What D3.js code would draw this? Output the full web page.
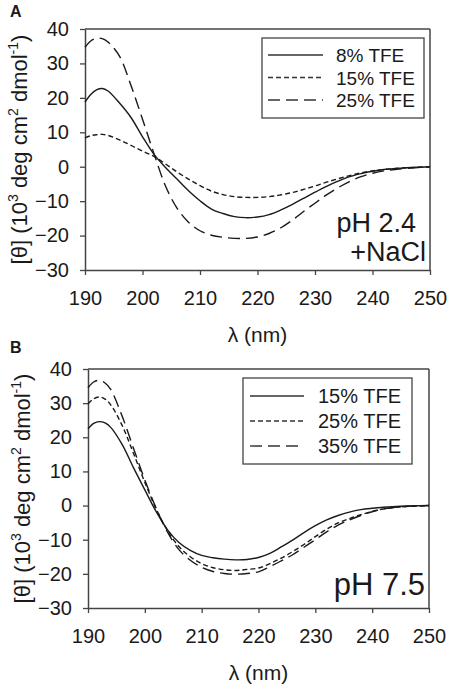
<!DOCTYPE html>
<html>
<head>
<meta charset="utf-8">
<script src="https://cdn.jsdelivr.net/npm/d3@7"></script>
<style>
  html, body { margin: 0; padding: 0; background: #fff; }
  svg { display: block; }
  text { font-family: "Liberation Sans", Arial, Helvetica, sans-serif; fill: #1a1a1a; }
</style>
</head>
<body>
<svg id="chart" width="450" height="689"></svg>
<script>
// ---- data ----
const wavelengths = [190,191,192,193,194,196,198,200,202,204,206,208,210,212,214,216,218,220,222,224,226,228,230,232,234,236,238,240,242,245,250];
const xTicks = [190,200,210,220,230,240,250];
const yTicks = [-30,-20,-10,0,10,20,30,40];

// Panel A (pH 2.4 + NaCl)
const aLabels = ["8% TFE","15% TFE","25% TFE"];
const aTfe8  = [18.8,21.0,22.3,22.7,22.0,18.5,14.3,8.7,3.6,-0.2,-3.6,-7.0,-9.9,-12.3,-13.6,-14.5,-14.8,-14.6,-13.9,-12.6,-11.0,-9.2,-7.4,-5.7,-4.2,-2.9,-2.0,-1.3,-0.8,-0.4,0];
const aTfe15 = [8.4,9.0,9.3,9.4,9.1,7.8,6.2,4.5,3.0,0.8,-1.5,-3.6,-5.5,-7.1,-8.1,-8.7,-8.9,-8.9,-8.7,-8.2,-7.5,-6.6,-5.6,-4.5,-3.5,-2.6,-1.8,-1.2,-0.8,-0.4,0];
const aTfe25 = [34.7,36.5,37.3,37.2,36.2,32.1,23.6,13.8,3.8,-5.6,-12.0,-16.1,-18.6,-19.9,-20.5,-20.8,-20.8,-20.4,-19.4,-17.8,-15.6,-13.0,-10.6,-8.2,-6.1,-4.3,-2.9,-1.9,-1.2,-0.6,0];

// Panel B (pH 7.5)
const bLabels = ["15% TFE","25% TFE","35% TFE"];
const bTfe15 = [22.5,24.1,24.6,24.2,22.9,17.9,11.1,4.6,-1.8,-7.1,-10.8,-13.1,-14.6,-15.3,-15.7,-15.9,-15.8,-15.2,-14.0,-12.1,-10.1,-7.9,-5.9,-4.2,-2.9,-1.9,-1.2,-0.8,-0.5,-0.2,0];
const bTfe25 = [29.8,31.3,31.8,31.2,29.5,23.5,15.3,6.8,-1.0,-7.4,-12.0,-15.0,-17.0,-18.2,-18.8,-19.0,-18.7,-18.3,-17.0,-15.4,-13.5,-11.4,-9.1,-6.9,-5.1,-3.8,-2.7,-1.7,-1.0,-0.4,0];
const bTfe35 = [34.5,36.2,36.7,35.9,34.0,26.2,16.8,7.5,-0.8,-7.8,-12.9,-16.0,-18.1,-19.3,-19.9,-20.1,-19.9,-19.4,-17.9,-16.2,-14.4,-12.2,-10.0,-7.7,-5.7,-4.2,-2.9,-1.8,-1.0,-0.4,0];

const dashes = [null, "5,3", "12,6"];

const svg = d3.select("#chart");

function panel(cfg) {
  const x = d3.scaleLinear().domain([190,250]).range([cfg.x0, cfg.x1]);
  const y = d3.scaleLinear().domain([-30,40]).range([cfg.y0, cfg.y1]);
  const g = svg.append("g");

  // frame (top and right)
  g.append("line").attr("x1", x(190)).attr("x2", x(250)).attr("y1", y(40)).attr("y2", y(40))
    .attr("stroke", "#444").attr("stroke-width", 1.5);
  g.append("line").attr("x1", x(250)).attr("x2", x(250)).attr("y1", y(40)).attr("y2", y(-30))
    .attr("stroke", "#444").attr("stroke-width", 1.5);

  const ax = g.append("g").attr("transform", `translate(0,${y(-30)})`)
    .call(d3.axisBottom(x).tickValues(xTicks).tickSize(5).tickSizeOuter(0).tickPadding(16));
  const ay = g.append("g").attr("transform", `translate(${x(190)},0)`)
    .call(d3.axisLeft(y).tickValues(yTicks).tickSize(5).tickSizeOuter(0).tickPadding(11));
  [ax, ay].forEach(a => {
    a.select(".domain").attr("stroke", "#444").attr("stroke-width", 1.5);
    a.selectAll(".tick line").attr("stroke", "#444").attr("stroke-width", 1.3);
    a.selectAll(".tick text").attr("font-size", 20).attr("fill", "#1a1a1a")
      .attr("font-family", "Liberation Sans, Arial, sans-serif");
  });

  // lines
  const line = d3.line().x((d, i) => x(wavelengths[i])).y(d => y(d)).curve(d3.curveCatmullRom.alpha(0.5));
  cfg.series.forEach((s, i) => {
    g.append("path").datum(s).attr("d", line).attr("fill", "none")
      .attr("stroke", "#1a1a1a").attr("stroke-width", 1.4)
      .attr("stroke-dasharray", dashes[i]);
  });

  // legend
  const L = cfg.legend;
  g.append("rect").attr("x", L.x).attr("y", L.y).attr("width", L.w).attr("height", L.h)
    .attr("fill", "#fff").attr("stroke", "#444").attr("stroke-width", 1.3);
  cfg.labels.forEach((lab, i) => {
    const ry = L.y + L.first + i * L.step;
    g.append("line").attr("x1", L.lx0).attr("x2", L.lx1).attr("y1", ry).attr("y2", ry)
      .attr("stroke", "#333").attr("stroke-width", 1.4).attr("stroke-dasharray", dashes[i]);
    g.append("text").attr("x", L.tx).attr("y", ry + 7).attr("font-size", L.fs).text(lab);
  });

  // y label
  const yl = g.append("text").attr("transform", `translate(${cfg.ylx},${(cfg.y0 + cfg.y1) / 2}) rotate(-90)`)
    .attr("text-anchor", "middle").attr("font-size", 22);
  yl.append("tspan").text("[θ] (10");
  yl.append("tspan").attr("font-size", 14).attr("dy", -9).text("3");
  yl.append("tspan").attr("dy", 9).text(" deg cm");
  yl.append("tspan").attr("font-size", 14).attr("dy", -9).text("2");
  yl.append("tspan").attr("dy", 9).text(" dmol");
  yl.append("tspan").attr("font-size", 14).attr("dy", -9).text("-1");
  yl.append("tspan").attr("dy", 9).text(")");

  // x label
  g.append("text").attr("x", (cfg.x0 + cfg.x1) / 2).attr("y", cfg.xly)
    .attr("text-anchor", "middle").attr("font-size", 21).text("λ (nm)");

  // panel letter
  g.append("text").attr("x", 10).attr("y", cfg.py).attr("font-size", 16)
    .attr("font-weight", "bold").text(cfg.letter);

  // condition text
  cfg.notes.forEach(n => {
    g.append("text").attr("x", n.x).attr("y", n.y).attr("font-size", n.fs)
      .attr("text-anchor", "end").text(n.t);
  });
}

panel({
  x0: 85, x1: 430, y0: 270, y1: 29,
  series: [aTfe8, aTfe15, aTfe25], labels: aLabels,
  legend: {x: 262, y: 38, w: 162, h: 80, first: 17, step: 22.5, lx0: 268, lx1: 323, tx: 336, fs: 19},
  ylx: 27, xly: 342, py: 17, letter: "A",
  notes: [{t: "pH 2.4", x: 416, y: 232, fs: 27}, {t: "+NaCl", x: 426, y: 261, fs: 27}]
});

panel({
  x0: 88, x1: 429, y0: 608, y1: 369,
  series: [bTfe15, bTfe25, bTfe35], labels: bLabels,
  legend: {x: 243, y: 378, w: 169, h: 86, first: 18, step: 25, lx0: 250, lx1: 304, tx: 318, fs: 20},
  ylx: 30, xly: 680, py: 353, letter: "B",
  notes: [{t: "pH 7.5", x: 425, y: 595, fs: 31}]
});
</script>
</body>
</html>
